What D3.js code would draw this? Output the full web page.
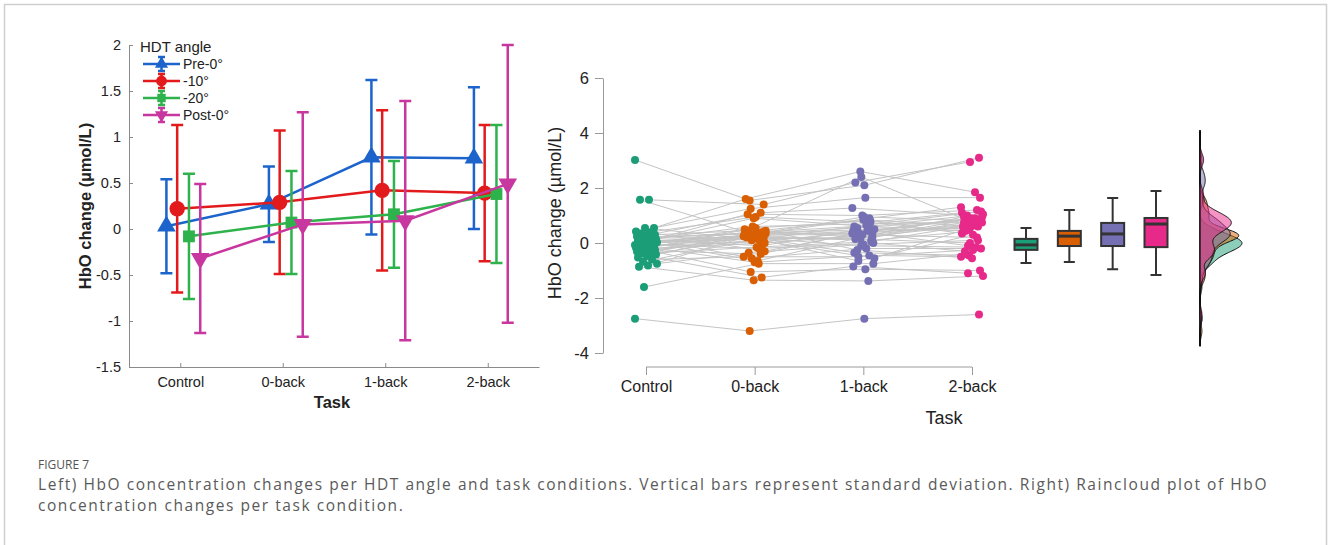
<!DOCTYPE html>
<html>
<head>
<meta charset="utf-8">
<script src="https://cdn.jsdelivr.net/npm/d3@7"></script>
<style>
  body { margin: 0; background: #fff; }
  svg text { font-family: "Liberation Sans", Arial, sans-serif; }
  svg text.cap { font-family: "Open Sans", sans-serif; }
</style>
</head>
<body>
<div id="chart"></div>
<script>
(function () {

  // categories
  const tasks = ['Control', '0-back', '1-back', '2-back']
  const angles = ['Pre-0°', '-10°', '-20°', 'Post-0°']

  // left panel: mean and sd per HDT angle
  const preMean = [0.03, 0.27, 0.78, 0.77]
  const preSd = [0.51, 0.41, 0.84, 0.77]
  const m10Mean = [0.22, 0.29, 0.42, 0.39]
  const m10Sd = [0.91, 0.78, 0.87, 0.74]
  const m20Mean = [-0.08, 0.07, 0.16, 0.38]
  const m20Sd = [0.68, 0.56, 0.58, 0.75]
  const postMean = [-0.32, 0.05, 0.09, 0.49]
  const postSd = [0.81, 1.22, 1.30, 1.51]

  const leftYTicks = [-1.5, -1, -0.5, 0, 0.5, 1, 1.5, 2]
  const rightYTicks = [-4, -2, 0, 2, 4, 6]

  // right panel: one value per subject and task
  const control = [3.02, 1.57, 1.57, 0.55, 0.55, 0.42, 0.38, 0.35, 0.30, 0.27,
    0.24, 0.20, 0.18, 0.15, 0.12, 0.10, 0.08, 0.05, 0.03, 0.01,
    -0.01, -0.03, -0.05, -0.07, -0.09, -0.11, -0.13, -0.15, -0.17, -0.19,
    -0.22, -0.25, -0.28, -0.31, -0.34, -0.38, -0.42, -0.47, -0.53, -0.60,
    -0.68, -0.75, -0.82, -0.86, 0.22, -1.60, -2.75, 0.05]
  const zeroBack = [1.55, 1.40, 0.30, 1.60, 0.10, 1.25, -0.30, 0.95, 0.45, 1.10,
    -0.55, 0.35, 0.20, 1.05, -0.10, 0.60, 0.25, -0.65, 0.40, 0.15,
    0.90, 0.50, -0.20, 0.30, 0.05, -0.70, 0.25, 0.35, -1.05, 0.00,
    0.55, 0.20, -0.40, 0.10, 0.45, -0.15, 0.30, -1.25, 0.25, -0.50,
    0.15, -0.35, 0.40, -1.35, 0.35, -0.75, -3.20, 0.20]
  const oneBack = [2.10, 2.20, 0.90, 2.60, -0.55, 1.65, 0.35, 0.75, 2.40, 1.27,
    -0.20, 0.55, 0.10, 1.00, 0.45, 0.70, -0.65, 0.30, 0.85, -0.35,
    0.60, 0.20, 0.00, 0.95, 0.40, -0.45, 0.15, 0.50, -0.95, 0.25,
    0.80, -0.10, 0.35, 0.65, -0.25, 0.05, 0.30, -0.85, 0.45, -0.50,
    0.20, -0.05, 0.60, -1.38, 0.35, -0.75, -2.75, 0.15]
  const twoBack = [3.10, 2.95, 1.30, 1.85, 0.50, 1.65, 0.90, 1.10, 0.70, 1.00,
    -0.20, 0.85, 0.40, 1.20, -0.10, 0.75, 0.30, 0.95, 0.60, -0.45,
    1.05, 0.65, -0.30, 0.80, 0.55, -0.50, 0.90, 0.45, -1.00, 0.70,
    0.35, -0.15, 0.85, 1.15, -0.55, 0.60, 0.20, -1.10, 0.95, -0.25,
    0.75, 0.10, 0.50, -1.20, 0.65, -0.40, -2.60, 0.00]

  // box plot stats
  const boxLo = [-0.73, -0.69, -0.95, -1.16]
  const boxQ1 = [-0.25, -0.11, -0.11, -0.15]
  const boxMed = [-0.07, 0.25, 0.33, 0.69]
  const boxQ3 = [0.15, 0.44, 0.73, 0.91]
  const boxHi = [0.55, 1.20, 1.64, 1.89]

  const width = 1328
  const height = 545

  const svg = d3.select('#chart').append('svg')
    .attr('width', width)
    .attr('height', height)

  // page frame
  svg.append('path')
    .attr('d', 'M4.5,' + height + 'V4.5H1326.5V' + height)
    .attr('fill', 'none')
    .attr('stroke', '#cfcfcf')
    .attr('stroke-width', 1.5)

  // ---------------- left panel ----------------
  const series = [
    { name: angles[0], mean: preMean, sd: preSd, color: '#1c64cb', shape: 'up', off: -0.135 },
    { name: angles[1], mean: m10Mean, sd: m10Sd, color: '#e31a1c', shape: 'circle', off: -0.03 },
    { name: angles[2], mean: m20Mean, sd: m20Sd, color: '#2eb24b', shape: 'square', off: 0.085 },
    { name: angles[3], mean: postMean, sd: postSd, color: '#c8379f', shape: 'down', off: 0.195 }
  ]

  const xLeft = d3.scaleLinear().domain([0.5, 4.5]).range([129, 539])
  const yLeft = d3.scaleLinear().domain([-1.5, 2]).range([367, 45])

  const left = svg.append('g')

  function markerPath (shape, big) {
    const k = big ? 1 : 0.5
    if (shape === 'circle') return d3.symbol(d3.symbolCircle, 185 * k)()
    if (shape === 'square') return d3.symbol(d3.symbolSquare, 140 * k)()
    return d3.symbol(d3.symbolTriangle, 150 * k)()
  }

  series.forEach(s => {
    const g = left.append('g')
    const pts = tasks.map((t, i) => ({ x: i + 1 + s.off, m: s.mean[i], sd: s.sd[i] }))

    // error bars
    g.selectAll('.err')
      .data(pts)
      .join('path')
      .attr('d', d => {
        const x = xLeft(d.x)
        const y0 = yLeft(d.m - d.sd)
        const y1 = yLeft(d.m + d.sd)
        return 'M' + x + ',' + y0 + 'V' + y1 +
          'M' + (x - 6) + ',' + y0 + 'H' + (x + 6) +
          'M' + (x - 6) + ',' + y1 + 'H' + (x + 6)
      })
      .attr('stroke', s.color)
      .attr('stroke-width', 2.5)
      .attr('fill', 'none')

    g.append('path')
      .datum(pts)
      .attr('d', d3.line().x(d => xLeft(d.x)).y(d => yLeft(d.m)))
      .attr('stroke', s.color)
      .attr('stroke-width', 2.5)
      .attr('fill', 'none')

    g.selectAll('.mk')
      .data(pts)
      .join('path')
      .attr('d', markerPath(s.shape, true))
      .attr('transform', d => 'translate(' + xLeft(d.x) + ',' + yLeft(d.m) + ')' +
        (s.shape === 'down' ? ' rotate(180)' : ''))
      .attr('fill', s.color)
  })

  // axes
  const leftYAxis = d3.axisLeft(yLeft)
    .tickValues(leftYTicks)
    .tickFormat(d3.format('~g'))
    .tickSizeInner(-4)
    .tickSizeOuter(0)
    .tickPadding(8)
  left.append('g')
    .attr('transform', 'translate(129,0)')
    .call(leftYAxis)
    .call(g => g.selectAll('text').attr('font-size', 14.5).attr('fill', '#222').text(d => d < 0 ? '-' + Math.abs(d) : d))

  const leftXAxis = d3.axisBottom(xLeft)
    .tickValues([1, 2, 3, 4])
    .tickFormat((d, i) => tasks[i])
    .tickSizeInner(-4)
    .tickSizeOuter(0)
    .tickPadding(10)
  left.append('g')
    .attr('transform', 'translate(0,367)')
    .call(leftXAxis)
    .call(g => g.selectAll('text').attr('font-size', 14.5).attr('fill', '#222'))

  left.selectAll('.domain, .tick line').attr('stroke', '#8a8a8a')

  left.append('text')
    .attr('transform', 'translate(91,206) rotate(-90)')
    .attr('text-anchor', 'middle')
    .attr('font-size', 16.5)
    .attr('font-weight', 'bold')
    .attr('fill', '#222')
    .text('HbO change (µmol/L)')

  left.append('text')
    .attr('x', 332)
    .attr('y', 408)
    .attr('text-anchor', 'middle')
    .attr('font-size', 16.5)
    .attr('font-weight', 'bold')
    .attr('fill', '#222')
    .text('Task')

  // legend
  const legend = left.append('g')
  legend.append('text')
    .attr('x', 140)
    .attr('y', 52)
    .attr('font-size', 15)
    .attr('fill', '#222')
    .text('HDT angle')

  const lg = legend.selectAll('.item')
    .data(series)
    .join('g')
    .attr('transform', (d, i) => 'translate(0,' + (64 + i * 17) + ')')

  lg.append('path')
    .attr('d', 'M143,0H180M161.5,-7V7M158,-7H165M158,7H165')
    .attr('stroke', d => d.color)
    .attr('stroke-width', 2.5)
    .attr('fill', 'none')
  lg.append('path')
    .attr('d', d => markerPath(d.shape, false))
    .attr('transform', d => 'translate(161.5,0)' + (d.shape === 'down' ? ' rotate(180)' : ''))
    .attr('fill', d => d.color)
  lg.append('text')
    .attr('x', 183)
    .attr('y', 5)
    .attr('font-size', 14)
    .attr('fill', '#222')
    .text(d => d.name)

  // ---------------- right panel ----------------
  const groups = [control, zeroBack, oneBack, twoBack]
  const colors = ['#1b9e77', '#d95f02', '#7570b3', '#e7298a']

  const xRight = d3.scalePoint().domain(tasks).range([646, 972])
  const xBox = d3.scalePoint().domain(tasks).range([1026, 1156])
  const yRight = d3.scaleLinear().domain([-4, 6]).range([353, 78])

  const right = svg.append('g')

  // small fixed jitter so the dots don't stack
  const jitter = i => (((i * 37) % 23) / 22 - 0.5) * 22

  const subjects = control.map((d, i) => tasks.map((t, j) => ({
    x: xRight(t) + jitter(i + j * 7),
    y: yRight(groups[j][i])
  })))

  right.append('g')
    .selectAll('path')
    .data(subjects)
    .join('path')
    .attr('d', d3.line().x(d => d.x).y(d => d.y))
    .attr('fill', 'none')
    .attr('stroke', '#c4c4c4')
    .attr('stroke-width', 1)

  tasks.forEach((t, j) => {
    right.append('g')
      .selectAll('circle')
      .data(subjects.map(s => s[j]))
      .join('circle')
      .attr('cx', d => d.x)
      .attr('cy', d => d.y)
      .attr('r', 4)
      .attr('fill', colors[j])
  })

  // boxes
  const boxes = right.append('g')
  tasks.forEach((t, j) => {
    const x = xBox(t)
    const g = boxes.append('g')
    g.append('path')
      .attr('d', 'M' + x + ',' + yRight(boxHi[j]) + 'V' + yRight(boxQ3[j]) +
        'M' + x + ',' + yRight(boxQ1[j]) + 'V' + yRight(boxLo[j]) +
        'M' + (x - 5.5) + ',' + yRight(boxHi[j]) + 'H' + (x + 5.5) +
        'M' + (x - 5.5) + ',' + yRight(boxLo[j]) + 'H' + (x + 5.5))
      .attr('stroke', '#333')
      .attr('stroke-width', 2)
      .attr('fill', 'none')
    g.append('rect')
      .attr('x', x - 11.5)
      .attr('width', 23)
      .attr('y', yRight(boxQ3[j]))
      .attr('height', yRight(boxQ1[j]) - yRight(boxQ3[j]))
      .attr('fill', colors[j])
      .attr('stroke', '#333')
      .attr('stroke-width', 2)
    g.append('line')
      .attr('x1', x - 11.5)
      .attr('x2', x + 11.5)
      .attr('y1', yRight(boxMed[j]))
      .attr('y2', yRight(boxMed[j]))
      .attr('stroke', '#333')
      .attr('stroke-width', 3)
  })

  // half violins (gaussian kde of the dots)
  const grid = d3.range(-3.75, 4.101, 0.02)
  const bw = 0.2
  const kde = vals => grid.map(v => [v, d3.mean(vals, d => Math.exp(-0.5 * ((v - d) / bw) ** 2)) / (bw * Math.sqrt(2 * Math.PI))])
  const dens = groups.map(kde)
  const maxD = d3.max(dens, d => d3.max(d, p => p[1]))
  const xDens = d3.scaleLinear().domain([0, maxD]).range([1200, 1242])

  right.append('g')
    .selectAll('path')
    .data(dens)
    .join('path')
    .attr('d', d3.area().y(d => yRight(d[0])).x0(1200).x1(d => xDens(d[1])))
    .attr('fill', (d, i) => colors[i])
    .attr('fill-opacity', 0.5)
    .attr('stroke', '#111')
    .attr('stroke-width', 1)

  // axes
  const rightYAxis = d3.axisLeft(yRight)
    .tickValues(rightYTicks)
    .tickSizeInner(8)
    .tickSizeOuter(0)
    .tickPadding(6)
  right.append('g')
    .attr('transform', 'translate(603,0)')
    .call(rightYAxis)
    .call(g => g.selectAll('text').attr('font-size', 16.5).attr('fill', '#222').text(d => d < 0 ? '-' + Math.abs(d) : d))

  const rightXAxis = d3.axisBottom(xRight)
    .tickSizeInner(8)
    .tickSizeOuter(0)
    .tickPadding(6)
  right.append('g')
    .attr('transform', 'translate(0,367)')
    .call(rightXAxis)
    .call(g => g.selectAll('text').attr('font-size', 16).attr('fill', '#222'))
    .call(g => g.select('.domain').attr('d', 'M646,0H972'))

  right.selectAll('.domain, .tick line').attr('stroke', '#9a9a9a')

  right.append('text')
    .attr('transform', 'translate(561,213) rotate(-90)')
    .attr('text-anchor', 'middle')
    .attr('font-size', 18)
    .attr('fill', '#222')
    .text('HbO change (µmol/L)')

  right.append('text')
    .attr('x', 944)
    .attr('y', 424)
    .attr('text-anchor', 'middle')
    .attr('font-size', 18)
    .attr('fill', '#222')
    .text('Task')

  // ---------------- caption ----------------
  svg.append('text')
    .attr('class', 'cap')
    .attr('x', 38)
    .attr('y', 469)
    .attr('font-size', 12)
    .attr('fill', '#555')
    .text('FIGURE 7')

  const capText = ['Left) HbO concentration changes per HDT angle and task conditions. Vertical bars represent standard deviation. Right) Raincloud plot of HbO',
    'concentration changes per task condition.']

  const capLines = svg.selectAll('.capline')
    .data(capText)
    .join('text')
    .attr('class', 'cap')
    .attr('x', 38)
    .attr('y', (d, i) => 490 + i * 21)
    .attr('font-size', 15.5)
    .attr('fill', '#5a5a5a')
    .text(d => d)

  // the figure's font is narrow with open spacing: stretch the letter gaps to the same line width
  const len = capLines.node().getComputedTextLength()
  capLines.attr('letter-spacing', (1230 - len) / capText[0].length)

})();
</script>
</body>
</html>
